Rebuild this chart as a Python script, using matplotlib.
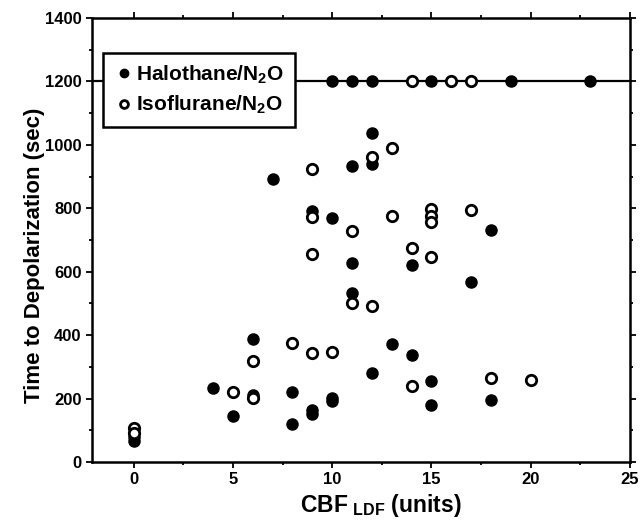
import numpy as np
import matplotlib
matplotlib.use("Agg")
import matplotlib.pyplot as plt

# time to depolarization vs CBF (LDF units)
halo_x = [0, 0, 4, 5, 6, 6, 7, 8, 8, 9, 9, 9, 10, 10, 10, 11, 11, 11,
          12, 12, 12, 13, 14, 14, 15, 15, 17, 18, 18,
          10, 11, 12, 15, 19, 23]
halo_y = [78, 65, 233, 145, 388, 212, 893, 221, 120, 792, 165, 150, 770, 203, 193, 934, 628, 533,
          1038, 940, 281, 372, 621, 337, 255, 180, 568, 732, 195,
          1200, 1200, 1200, 1200, 1200, 1200]

iso_x = [0, 0, 5, 6, 6, 8, 9, 9, 9, 9, 10, 11, 11, 12, 12, 13, 13, 14, 14,
         15, 15, 15, 15, 17, 18, 20,
         14, 16, 17]
iso_y = [107, 92, 221, 319, 202, 375, 924, 773, 656, 344, 347, 729, 502, 962, 492, 991, 776, 675, 240,
         798, 776, 757, 647, 795, 265, 258,
         1200, 1200, 1200]

cutoff = 1200

plt.rcParams['font.family'] = ['Liberation Sans', 'DejaVu Sans']
plt.rcParams['font.weight'] = 'bold'
plt.rcParams['mathtext.fontset'] = 'custom'
plt.rcParams['mathtext.rm'] = 'Liberation Sans:bold'
plt.rcParams['mathtext.bf'] = 'Liberation Sans:bold'
plt.rcParams['mathtext.default'] = 'bf'

fig = plt.figure(figsize=(6.42, 5.22), dpi=100)
ax = fig.add_axes([0.1433, 0.115, 0.8377, 0.8505])

ax.axhline(cutoff, color='black', lw=1.6, zorder=1)
ax.plot(halo_x, halo_y, 'o', color='black', ms=8, ls='none',
        label='Halothane/N$_2$O$\\ \\ $', zorder=3)
ax.plot(iso_x, iso_y, 'o', mfc='white', mec='black', mew=2, ms=7.5, ls='none',
        label='Isoflurane/N$_2$O$\\ \\ $', zorder=4)

ax.set_xlim(-2.1, 25)
ax.set_ylim(0, 1400)
ax.set_xticks([0, 5, 10, 15, 20, 25])
ax.set_xticks(np.arange(0, 25.1, 2.5), minor=True)
ax.set_yticks(np.arange(0, 1401, 200))
ax.set_yticks(np.arange(0, 1401, 100), minor=True)
ax.tick_params(which='both', direction='out', top=True, right=True, width=1.3,
               labelsize=12, labeltop=False, labelright=False)
ax.tick_params(which='major', length=4)
ax.tick_params(which='minor', length=2.5)
for lab in ax.get_xticklabels() + ax.get_yticklabels():
    lab.set_fontweight('bold')
for s in ax.spines.values():
    s.set_linewidth(1.8)

ax.set_xlabel('CBF$_{\\ LDF}$ (units)', fontsize=16.5, fontweight='bold')
ax.set_ylabel('Time to Depolarization (sec)', fontsize=16, fontweight='bold')
ax.xaxis.set_label_coords(0.537, -0.068, transform=ax.transAxes)
ax.yaxis.set_label_coords(-0.106, 0.465, transform=ax.transAxes)
ax.xaxis.label.set_va('top')
ax.yaxis.label.set_va('center')

leg = ax.legend(loc='upper left', bbox_to_anchor=(0.02, 0.921), fontsize=15,
                frameon=True, fancybox=False, handletextpad=0.1, handlelength=1.0,
                borderpad=0.5, labelspacing=0.4, markerscale=0.75, borderaxespad=0)
leg.get_frame().set_edgecolor('black')
leg.get_frame().set_linewidth(1.8)
leg.get_frame().set_alpha(1)
for t in leg.get_texts():
    t.set_fontweight('bold')

fig.savefig('out.png', dpi=100)
